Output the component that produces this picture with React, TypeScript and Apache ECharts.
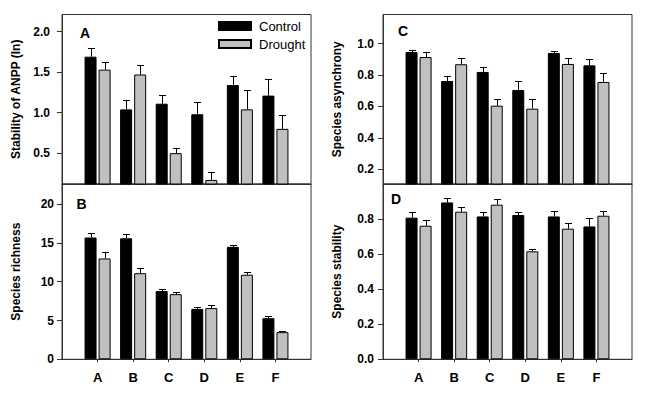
import React, { useEffect, useRef } from "react";
import * as echarts from "echarts";

const categories = ["A", "B", "C", "D", "E", "F"];
const seriesNames = ["Control", "Drought"];

const anppControl = [1.69, 1.04, 1.11, 0.98, 1.34, 1.21];
const anppControlErr = [0.11, 0.12, 0.11, 0.15, 0.11, 0.2];
const anppDrought = [1.53, 1.47, 0.5, 0.17, 1.04, 0.8];
const anppDroughtErr = [0.1, 0.12, 0.07, 0.1, 0.24, 0.17];

const richnessControl = [15.7, 15.6, 8.8, 6.5, 14.5, 5.3];
const richnessControlErr = [0.55, 0.6, 0.3, 0.22, 0.22, 0.26];
const richnessDrought = [13.0, 11.1, 8.4, 6.6, 10.9, 3.5];
const richnessDroughtErr = [0.85, 0.7, 0.26, 0.35, 0.38, 0.13];

const asyncControl = [0.947, 0.762, 0.82, 0.705, 0.941, 0.862];
const asyncControlErr = [0.013, 0.03, 0.034, 0.055, 0.011, 0.042];
const asyncDrought = [0.915, 0.869, 0.605, 0.586, 0.871, 0.756];
const asyncDroughtErr = [0.034, 0.04, 0.045, 0.064, 0.036, 0.055];

const stabControl = [0.808, 0.895, 0.815, 0.823, 0.815, 0.758];
const stabControlErr = [0.032, 0.025, 0.027, 0.02, 0.031, 0.05];
const stabDrought = [0.762, 0.842, 0.882, 0.616, 0.745, 0.819];
const stabDroughtErr = [0.032, 0.028, 0.032, 0.013, 0.035, 0.027];

const anppTicks = [0.5, 1.0, 1.5, 2.0];
const richnessTicks = [0, 5, 10, 15, 20];
const asyncTicks = [0.2, 0.4, 0.6, 0.8, 1.0];
const stabTicks = [0, 0.2, 0.4, 0.6, 0.8];

const FONT = "'Liberation Sans', Arial, Helvetica, sans-serif";
const AXIS_COLOR = "#333";
const BAR_COLORS = ["#000000", "#c0c0c0"];

type Panel = {
  letter: string;
  name: string;
  left: number;
  top: number;
  height: number;
  min: number;
  max: number;
  ticks: number[];
  decimals: number;
  labelMargin: number;
  showX: boolean;
  values: number[][];
  errors: number[][];
};

const panels: Panel[] = [
  {
    letter: "A", name: "Stability of ANPP (ln)", left: 62, top: 14.5, height: 169.5,
    min: 0.12, max: 2.21, ticks: anppTicks, decimals: 1, labelMargin: 12, showX: false,
    values: [anppControl, anppDrought], errors: [anppControlErr, anppDroughtErr],
  },
  {
    letter: "B", name: "Species richness", left: 62, top: 184, height: 175.3,
    min: 0, max: 22.6, ticks: richnessTicks, decimals: 0, labelMargin: 8, showX: true,
    values: [richnessControl, richnessDrought], errors: [richnessControlErr, richnessDroughtErr],
  },
  {
    letter: "C", name: "Species asynchrony", left: 383, top: 14.5, height: 169.5,
    min: 0.106, max: 1.186, ticks: asyncTicks, decimals: 1, labelMargin: 9, showX: false,
    values: [asyncControl, asyncDrought], errors: [asyncControlErr, asyncDroughtErr],
  },
  {
    letter: "D", name: "Species stability", left: 383, top: 184, height: 175.3,
    min: 0, max: 1.0, ticks: stabTicks, decimals: 1, labelMargin: 9, showX: true,
    values: [stabControl, stabDrought], errors: [stabControlErr, stabDroughtErr],
  },
];

const letterPos: Record<string, [number, number]> = {
  A: [80, 26],
  B: [76.5, 197],
  C: [398, 24],
  D: [391, 192],
};

const axisCats = ["", ...categories, ""];

function buildOption() {
  const grid: any[] = [];
  const xAxis: any[] = [];
  const yAxis: any[] = [];
  const series: any[] = [];
  const graphic: any[] = [];

  panels.forEach((p, gi) => {
    grid.push({
      left: p.left,
      top: p.top,
      width: 249,
      height: p.height,
      show: true,
      borderColor: AXIS_COLOR,
      borderWidth: 1,
      backgroundColor: "transparent",
    });
    xAxis.push({
      type: "category",
      gridIndex: gi,
      data: axisCats,
      boundaryGap: false,
      axisLine: { show: true, lineStyle: { color: AXIS_COLOR, width: 1 } },
      axisTick: {
        show: p.showX,
        length: 3,
        interval: (i: number) => i > 0 && i < axisCats.length - 1,
        lineStyle: { color: AXIS_COLOR },
      },
      axisLabel: {
        show: p.showX,
        interval: (i: number) => i > 0 && i < axisCats.length - 1,
        margin: 12,
        fontFamily: FONT,
        fontWeight: "bold",
        fontSize: 13,
        color: "#000",
      },
      splitLine: { show: false },
    });
    yAxis.push({
      type: "value",
      gridIndex: gi,
      min: p.min,
      max: p.max,
      name: p.name,
      nameLocation: "middle",
      nameRotate: 90,
      nameGap: 40,
      nameTextStyle: { fontFamily: FONT, fontWeight: "bold", fontSize: 12, color: "#000" },
      axisLine: { show: true, lineStyle: { color: AXIS_COLOR, width: 1 } },
      axisTick: { show: true, length: 5, customValues: p.ticks, lineStyle: { color: AXIS_COLOR } },
      axisLabel: {
        customValues: p.ticks,
        formatter: (v: number) => v.toFixed(p.decimals),
        margin: p.labelMargin,
        fontFamily: FONT,
        fontWeight: "bold",
        fontSize: 12,
        color: "#000",
      },
      splitLine: { show: false },
    });

    p.values.forEach((vals, si) => {
      series.push({
        type: "bar",
        name: seriesNames[si],
        xAxisIndex: gi,
        yAxisIndex: gi,
        data: [null, ...vals, null],
        barWidth: 12,
        barGap: "17%",
        itemStyle: { color: BAR_COLORS[si], borderColor: "#000", borderWidth: 1 },
        emphasis: { disabled: true },
        z: 2,
      });
    });
    p.values.forEach((vals, si) => {
      const offset = si === 0 ? -7 : 7;
      series.push({
        type: "custom",
        name: "err" + gi + si,
        xAxisIndex: gi,
        yAxisIndex: gi,
        data: vals.map((v, i) => [i + 1, v, p.errors[si][i]]),
        encode: { x: 0, y: 1 },
        z: 3,
        renderItem: (params: any, api: any) => {
          const idx = api.value(0);
          const v = api.value(1);
          const e = api.value(2);
          const base = api.coord([idx, v]);
          const top = api.coord([idx, v + e]);
          const x = Math.round(base[0] + offset) + 0.5;
          const yt = Math.round(top[1]) + 0.5;
          return {
            type: "group",
            children: [
              { type: "line", shape: { x1: x, y1: base[1], x2: x, y2: yt }, style: { stroke: "#000", lineWidth: 1 } },
              { type: "line", shape: { x1: x - 3.5, y1: yt, x2: x + 3.5, y2: yt }, style: { stroke: "#000", lineWidth: 1 } },
            ],
          };
        },
      });
    });

    const lp = letterPos[p.letter];
    graphic.push({
      type: "text",
      x: lp[0],
      y: lp[1],
      style: { text: p.letter, fontFamily: FONT, fontWeight: "bold", fontSize: 14, fill: "#000", textVerticalAlign: "top" },
      z: 10,
    });
  });

  return {
    animation: false,
    backgroundColor: "#fff",
    grid,
    xAxis,
    yAxis,
    series,
    graphic,
    legend: {
      data: seriesNames,
      orient: "vertical",
      left: 213,
      top: 14.5,
      itemWidth: 32,
      itemHeight: 8,
      itemGap: 5,
      icon: "rect",
      selectedMode: false,
      textStyle: { fontFamily: FONT, fontSize: 13, color: "#000", lineHeight: 13, padding: [0, 0, 0, 3] },
    },
  };
}

export default function App() {
  const ref = useRef<HTMLDivElement>(null);
  useEffect(() => {
    if (!ref.current) return;
    const chart = echarts.init(ref.current, null, { renderer: "svg" });
    chart.setOption(buildOption() as any);
    return () => chart.dispose();
  }, []);
  return (
    <div
      ref={ref}
      style={{ position: "fixed", left: 0, top: 0, width: 648, height: 394, background: "#fff" }}
    />
  );
}
